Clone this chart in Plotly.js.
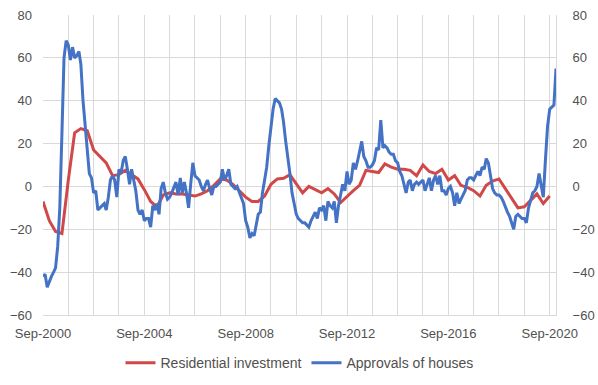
<!DOCTYPE html>
<html>
<head>
<meta charset="utf-8">
<script src="https://cdn.plot.ly/plotly-3.0.1.min.js"></script>
<style>html,body{margin:0;padding:0;background:#fff}#chart{width:598px;height:385px}</style>
</head>
<body>
<div id="chart"></div>
<script>
// Quarterly series, Sep-2000 .. Sep-2020
const residentialStart = [2000, 9];
const residentialInvestment = [
  -7, -16, -21, -22, 3, 25, 27, 26, 17, 14, 11, 5,
  5.5, 7.5, 5.5, 3.5, -1.5, -7, -9.5, -4, -3, -3.5, -3.5, -4,
  -4.5, -3.5, -2, 0.5, 3.5, 3, 1, -2, -5, -7, -7, -4.5,
  1, 3.5, 3.8, 5.5, 1, -3, 0, -1.5, -3, -1, -3.5, -7.5,
  -4.5, -2, 0.5, 7.5, 7, 6.5, 10.5, 9, 8, 8, 7.5, 5,
  10, 7, 6, 8, 3, 5, 0.5, -0.5, -2, -4.5, 0.5, 2.5,
  3.5, -1, -6, -10, -9.5, -6.5, -3.5, -8, -4.5
];
// Monthly series, Sep-2000 .. Dec-2020
const approvalsStart = [2000, 9];
const approvalsOfHouses = [
  -42, -41, -47, -44, -42, -40, -38, -28, -10, 25, 60, 68,
  66, 59, 65, 60, 61, 63, 57, 40, 28, 16, 6, 4,
  -3, -2, -11, -10, -9, -8, -11, -5, 3, 5, 3, -5,
  8, 6, 12, 14, 8, 1, 8, 3, -2, -11, -13, -11,
  -16, -15, -15, -19, -9, -11, -8, -13, -1, 2, -3, -6,
  -5, -3, 0, 2, -4, 4, -3, 2, -3, -10, 1, 11,
  5, 4, 3, 0, -2, 1, 3, -1, -4, 0, 0, 1,
  2, 8, 3, 5, 8, 1, 0, -1, 0, -3, -5, -8,
  -16, -19, -24, -22, -23, -17, -13, -12, -3, 3, 9, 19,
  28, 36, 41, 40, 39, 36, 30, 21, 14, 6, -3, -9,
  -13, -15, -16, -17, -17, -18, -19, -16, -14, -12, -15, -10,
  -11, -9, -16, -7, -9, -10, -7, -17, -9, -3, 1, -2,
  7, 1, 3, 11, 8, 12, 16, 21, 14, 12, 9, 9,
  10, 12, 18, 17, 31, 18, 19, 18, 16, 15, 15, 12,
  11, 7, 5, 1, -3, 2, 3, -2, 1, 2, 1, 2,
  3, -2, 1, 4, -2, 3, 5, 1, 5, -2, -2, -4,
  -1, 0, -3, -9, -3, -8, -6, -4, -2, 3, 4, 4,
  3, 5, 7, 5, 9, 8, 13, 11, 4, -1, -3, -4,
  -4, -5, -7, -10, -12, -14, -17, -20, -14, -13, -14, -15,
  -15, -17, -10, -6, -3, -2, 0, 6, 1, -5, 12, 28,
  36, 37, 38, 55
];
const tickYears = [2000,2001,2002,2003,2004,2005,2006,2007,2008,2009,2010,2011,2012,2013,2014,2015,2016,2017,2018,2019,2020];
const tickLabels = ['Sep-2000','','','','Sep-2004','','','','Sep-2008','','','','Sep-2012','','','','Sep-2016','','','','Sep-2020'];
const seriesNames = ['Residential investment', 'Approvals of houses'];

function monthDates(start, n, step) {
  const out = [];
  let y = start[0], m = start[1];
  for (let i = 0; i < n; i++) {
    out.push(y + '-' + String(m).padStart(2, '0') + '-01');
    m += step;
    while (m > 12) { m -= 12; y += 1; }
  }
  return out;
}

const font = {family: '"Liberation Sans", Arial, sans-serif', size: 13, color: '#505050'};
const legendFont = {family: '"Liberation Sans", Arial, sans-serif', size: 14, color: '#505050'};
const grid = '#d9d9d9';

const traces = [
  {
    x: monthDates(residentialStart, residentialInvestment.length, 3),
    y: residentialInvestment, name: seriesNames[0], type: 'scatter', mode: 'lines',
    line: {color: '#D04848', width: 3}, yaxis: 'y'
  },
  {
    x: monthDates(approvalsStart, approvalsOfHouses.length, 1),
    y: approvalsOfHouses, name: seriesNames[1], type: 'scatter', mode: 'lines',
    line: {color: '#4472C4', width: 3}, yaxis: 'y2'
  }
];

const layout = {
  width: 598, height: 385,
  margin: {l: 43, r: 42, t: 15, b: 70, autoexpand: false},
  paper_bgcolor: '#fff', plot_bgcolor: '#fff',
  font: font,
  showlegend: true,
  legend: {orientation: 'h', x: 0.5, xanchor: 'center', xref: 'paper', yref: 'container', y: 0.057, yanchor: 'middle', font: legendFont, traceorder: 'normal', itemwidth: 30},
  xaxis: {
    type: 'date', range: ['2000-09-01', '2020-12-01'], automargin: false,
    tickmode: 'array', tickvals: tickYears.map(y => y + '-09-01'), ticktext: tickLabels,
    showgrid: true, gridcolor: grid, gridwidth: 1, zeroline: false,
    showline: true, linecolor: grid, linewidth: 1, ticks: '', ticklabelstandoff: 6,
    tickfont: font, fixedrange: true
  },
  yaxis: {
    range: [-60, 80], dtick: 20, tick0: 0, showgrid: true, gridcolor: grid, gridwidth: 1, automargin: false,
    zeroline: false, showline: false, ticks: '', ticklabelstandoff: 10, tickfont: font
  },
  yaxis2: {
    range: [-60, 80], dtick: 20, tick0: 0, overlaying: 'y', side: 'right', showgrid: false, automargin: false,
    zeroline: false, showline: true, linecolor: grid, linewidth: 1, ticks: '', ticklabelstandoff: 13, tickfont: font
  }
};

Plotly.newPlot('chart', traces, layout, {staticPlot: true, displayModeBar: false});
</script>
</body>
</html>
